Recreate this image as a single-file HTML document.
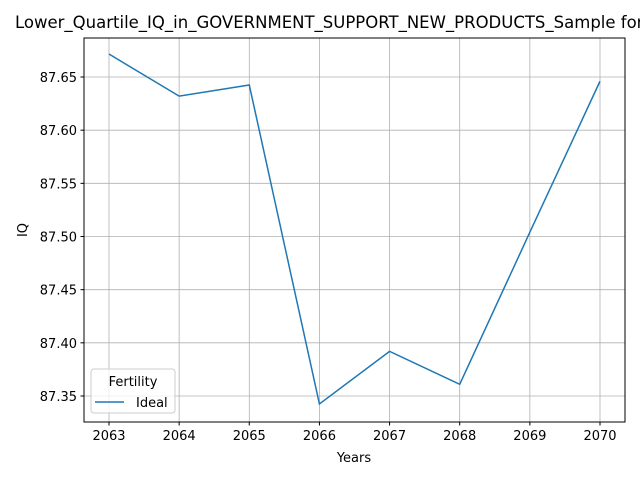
<!DOCTYPE html>
<html><head><meta charset="utf-8"><style>
body{margin:0;background:#fff;font-family:"Liberation Sans","DejaVu Sans",sans-serif;}
svg text{font-family:"DejaVu Sans","Liberation Sans",sans-serif;}
</style></head><body>
<svg id="chart" width="640" height="480" viewBox="0 0 640 480">
<text x="15" y="28" font-size="16.5" fill="#000">Lower_Quartile_IQ_in_GOVERNMENT_SUPPORT_NEW_PRODUCTS_Sample for Fertility</text>
<g id="grid"></g><g id="ticks"></g><g id="series"></g>
<rect x="84" y="38" width="541" height="384" fill="none" stroke="#000" stroke-width="1"/>
<text x="354" y="462" font-size="13" text-anchor="middle">Years</text>
<text transform="translate(27,230) rotate(-90)" font-size="13" text-anchor="middle">IQ</text>
<g>
<rect x="91" y="369" width="84" height="44" rx="3" fill="#fff" fill-opacity="0.8" stroke="#ccc"/>
<text x="133" y="386" font-size="13" text-anchor="middle">Fertility</text>
<line x1="95" y1="402" x2="124" y2="402" stroke="#1f77b4" stroke-width="1.5"/>
<text x="136" y="407" font-size="13">Ideal</text>
</g>
</svg>
<script>
const years=[2063,2064,2065,2066,2067,2068,2069,2070];
const iqValues=[87.6716,87.632,87.6425,87.3425,87.392,87.361,87.504,87.646];
const yTicks=[87.35,87.40,87.45,87.50,87.55,87.60,87.65];
const ns="http://www.w3.org/2000/svg";
function xs(v){return 109+(v-2063)*(600-109)/7;}
function ys(v){return 77-(v-87.65)*(396-77)/0.30;}
const grid=document.getElementById('grid'),ticks=document.getElementById('ticks'),series=document.getElementById('series');
function mk(tag,attrs,parent){const e=document.createElementNS(ns,tag);for(const k in attrs)e.setAttribute(k,attrs[k]);parent.appendChild(e);return e;}
years.forEach(y=>{const x=xs(y);
const g=mk('line',{x1:x,x2:x,y1:38,y2:422,stroke:'#b0b0b0','stroke-width':0.8},grid);


mk('line',{x1:x,x2:x,y1:422,y2:425.5,stroke:'#000'},ticks);
const t=mk('text',{x:x,y:440,'font-size':13,'text-anchor':'middle'},ticks);t.textContent=y;


});
yTicks.forEach(v=>{const y=ys(v);
const g=mk('line',{x1:84,x2:625,y1:y,y2:y,stroke:'#b0b0b0','stroke-width':0.8},grid);


mk('line',{x1:80.5,x2:84,y1:y,y2:y,stroke:'#000'},ticks);
const t=mk('text',{x:77,y:y+5,'font-size':13,'text-anchor':'end'},ticks);t.textContent=v.toFixed(2);


});
const p=mk('polyline',{points:years.map((y,i)=>xs(y)+','+ys(iqValues[i])).join(' '),fill:'none',stroke:'#1f77b4','stroke-width':1.5},series);


</script>
</body></html>
